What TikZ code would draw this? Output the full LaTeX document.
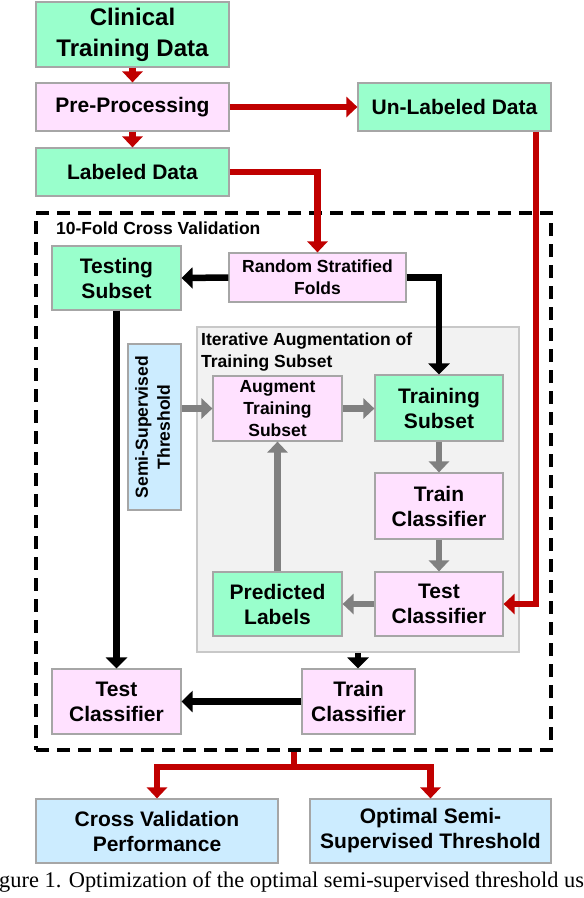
\documentclass[tikz,border=0pt]{standalone}
\usepackage{fontspec}
\setmainfont{Liberation Sans}
\newfontfamily\capfont{Liberation Serif}
\usetikzlibrary{arrows.meta}

\definecolor{boxgreen}{HTML}{99FFCC}
\definecolor{boxpink}{HTML}{FFE1FF}
\definecolor{boxblue}{HTML}{CCECFF}
\definecolor{boxline}{HTML}{A6A6A6}
\definecolor{arrred}{HTML}{C00000}
\definecolor{arrgray}{HTML}{808080}
\definecolor{iterfill}{HTML}{F2F2F2}
\definecolor{iterline}{HTML}{C8C8C8}

\tikzset{
  box/.style={draw=boxline,line width=1.2pt,inner sep=0pt,align=center,
    font=\bfseries\fontsize{21}{25}\selectfont},
  bigtext/.style={font=\bfseries\fontsize{24}{31}\selectfont},
  smalltext/.style={font=\bfseries\fontsize{17.5}{22}\selectfont},
  redarr/.style={draw=arrred,line width=6.5pt,-{Triangle[length=11pt,width=20pt]}},
  blackarr/.style={draw=black,line width=6.5pt,-{Triangle[length=11pt,width=21pt]}},
  grayarr/.style={draw=arrgray,line width=6.5pt,-{Triangle[length=11pt,width=20pt]}}
}

\begin{document}
\begin{tikzpicture}[x=1pt,y=-1pt]
\useasboundingbox (0,0) rectangle (584,898);
% outer cross validation frame and inner augmentation panel
\node[draw,dashed,line width=3.5pt,dash pattern=on 13pt off 8pt,minimum width=515pt,minimum height=537pt,inner sep=0pt] (cvbox) at (293.5,481.5) {};
\node[draw=iterline,fill=iterfill,line width=1.5pt,minimum width=322pt,minimum height=325pt,inner sep=0pt] (iter) at (358,489.5) {};
\node[anchor=west,smalltext,inner sep=0pt] (cvlabel) at (56,228) {10-Fold Cross Validation};
\node[anchor=west,smalltext,align=left,inner sep=0pt] (iterlabel) at (201,352.5) {Iterative Augmentation of\\Training Subset};

% data preparation
\node[box,bigtext,fill=boxgreen,minimum width=193pt,minimum height=65pt] (clin) at (132.5,34.5) {Clinical\\Training Data};
\node[box,fill=boxpink,minimum width=193pt,minimum height=48pt] (pre) at (132.5,107) {Pre-Processing};
\node[box,fill=boxgreen,minimum width=193pt,minimum height=48pt] (lab) at (132.5,172) {Labeled Data};
\node[box,fill=boxgreen,minimum width=193pt,minimum height=48pt] (unlab) at (454.5,107) {Un-Labeled Data};

% folds
\node[box,fill=boxgreen,minimum width=129pt,minimum height=64pt] (testing) at (116.5,278) {Testing\\Subset};
\node[box,smalltext,fill=boxpink,minimum width=177pt,minimum height=49pt] (rsf) at (317.5,277.5) {Random Stratified\\Folds};

% iterative augmentation
\node[box,smalltext,fill=boxblue,minimum width=53pt,minimum height=166pt] (thr) at (154.5,427) {\rotatebox{90}{\begin{tabular}{@{}c@{}}Semi-Supervised\\Threshold\end{tabular}}};
\node[box,smalltext,fill=boxpink,minimum width=129pt,minimum height=65pt] (aug) at (277.5,408.5) {Augment\\Training\\Subset};
\node[box,fill=boxgreen,minimum width=128pt,minimum height=66pt] (trs) at (439,408) {Training\\Subset};
\node[box,fill=boxpink,minimum width=128pt,minimum height=66pt] (trc) at (439,506) {Train\\Classifier};
\node[box,fill=boxpink,minimum width=128pt,minimum height=64pt] (tec) at (439,604) {Test\\Classifier};
\node[box,fill=boxgreen,minimum width=129pt,minimum height=64pt] (pred) at (277.5,604) {Predicted\\Labels};

% final classifier
\node[box,fill=boxpink,minimum width=113pt,minimum height=65pt] (trc2) at (358.5,701.5) {Train\\Classifier};
\node[box,fill=boxpink,minimum width=129pt,minimum height=65pt] (tec2) at (116.5,701.5) {Test\\Classifier};

% results
\node[box,fill=boxblue,minimum width=242pt,minimum height=64pt] (cvp) at (157,831) {Cross Validation\\Performance};
\node[box,fill=boxblue,minimum width=241pt,minimum height=64pt] (opt) at (430.5,831) {Optimal Semi-\\Supervised Threshold};

\coordinate (ucorner) at (536,604);
\coordinate (split) at (294,767);

\draw[redarr] (clin) -- (pre);
\draw[redarr] (pre) -- (lab);
\draw[redarr] (pre) -- (unlab);
\draw[redarr] (lab.east) -| (rsf.north);
\draw[redarr] (unlab.south -| ucorner) |- (tec.east);

\draw[blackarr] (rsf.west) -- (testing.east);
\draw[blackarr] (rsf.east) -| (trs.north);
\draw[blackarr] (testing.south) -- (tec2.north);
\draw[blackarr] (iter.south) -- (iter.south |- trc2.north);
\draw[blackarr] (trc2.west) -- (tec2.east);

\draw[grayarr] (thr.east |- aug.west) -- (aug.west);
\draw[grayarr] (aug.east) -- (aug.east -| trs.west);
\draw[grayarr] (trs.south) -- (trc.north);
\draw[grayarr] (trc.south) -- (tec.north);
\draw[grayarr] (tec.west) -- (pred.east);
\draw[grayarr] (pred.north) -- (aug.south);

\draw[draw=arrred,line width=6.5pt] (cvbox.south -| split) -- (split);
\draw[redarr] (split) -| (cvp.north);
\draw[redarr] (split) -| (opt.north);

\node[anchor=base west,inner sep=0pt,font=\capfont\fontsize{22.4}{25}\selectfont] (caption) at (-1,887) {gure 1. Optimization of the optimal semi-supervised threshold us};
\end{tikzpicture}
\end{document}
